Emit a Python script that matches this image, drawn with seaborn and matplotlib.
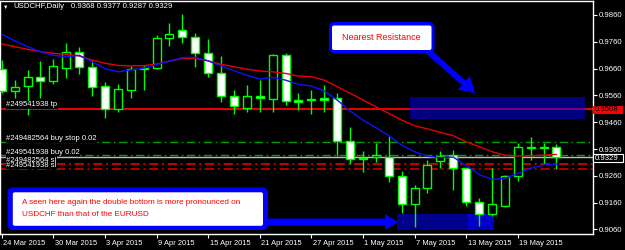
import numpy as np
import pandas as pd
import matplotlib
matplotlib.use("Agg")
import matplotlib.pyplot as plt
import seaborn as sns
from matplotlib.patches import Rectangle, FancyBboxPatch, FancyArrow
from matplotlib.transforms import Affine2D, ScaledTranslation

# ---------------- data ----------------
opens = [0.9658, 0.9578, 0.9595, 0.9628, 0.9614, 0.9663, 0.9723, 0.9666, 0.9595, 0.9508,
         0.9582, 0.9657, 0.9662, 0.9773, 0.9804, 0.9777, 0.9719, 0.9645, 0.9558, 0.9512,
         0.9558, 0.9545, 0.9711, 0.9543, 0.9541, 0.9551, 0.9551, 0.9391, 0.9322, 0.9331,
         0.9331, 0.9260, 0.9155, 0.9213, 0.9314, 0.9338, 0.9288, 0.9161, 0.9116, 0.9147,
         0.9259, 0.9362, 0.9363, 0.9368]
highs = [0.9692, 0.9617, 0.9655, 0.9690, 0.9694, 0.9754, 0.9739, 0.9692, 0.9609, 0.9603,
         0.9671, 0.9673, 0.9786, 0.9832, 0.9862, 0.9792, 0.9769, 0.9708, 0.9580, 0.9599,
         0.9617, 0.9713, 0.9719, 0.9570, 0.9580, 0.9599, 0.9568, 0.9443, 0.9352, 0.9381,
         0.9410, 0.9279, 0.9225, 0.9319, 0.9354, 0.9356, 0.9290, 0.9176, 0.9288, 0.9263,
         0.9381, 0.9403, 0.9384, 0.9377]
lows = [0.9570, 0.9549, 0.9487, 0.9550, 0.9601, 0.9624, 0.9639, 0.9559, 0.9474, 0.9497,
        0.9551, 0.9582, 0.9660, 0.9744, 0.9754, 0.9667, 0.9630, 0.9534, 0.9489, 0.9497,
        0.9499, 0.9497, 0.9524, 0.9505, 0.9489, 0.9499, 0.9335, 0.9303, 0.9273, 0.9313,
        0.9238, 0.9120, 0.9070, 0.9197, 0.9288, 0.9207, 0.9147, 0.9072, 0.9110, 0.9145,
        0.9240, 0.9319, 0.9306, 0.9287]
closes = [0.9577, 0.9593, 0.9628, 0.9615, 0.9670, 0.9723, 0.9665, 0.9593, 0.9508, 0.9584,
          0.9658, 0.9664, 0.9773, 0.9788, 0.9777, 0.9719, 0.9642, 0.9558, 0.9522, 0.9558,
          0.9549, 0.9711, 0.9540, 0.9534, 0.9546, 0.9544, 0.9391, 0.9321, 0.9326, 0.9336,
          0.9261, 0.9155, 0.9213, 0.9300, 0.9335, 0.9288, 0.9163, 0.9116, 0.9153, 0.9259,
          0.9366, 0.9366, 0.9366, 0.9329]
ma_fast = [0.9788, 0.9764, 0.9742, 0.9723, 0.9710, 0.9704, 0.9710, 0.9686, 0.9660, 0.9648,
           0.9655, 0.9662, 0.9675, 0.9688, 0.9701, 0.9702, 0.9689, 0.9670, 0.9652, 0.9635,
           0.9621, 0.9627, 0.9617, 0.9601, 0.9595, 0.9576, 0.9543, 0.9502, 0.9468, 0.9440,
           0.9410, 0.9375, 0.9350, 0.9333, 0.9328, 0.9330, 0.9298, 0.9265, 0.9247, 0.9250,
           0.9269, 0.9288, 0.9300, 0.9303]
ma_slow = [0.9752, 0.9742, 0.9732, 0.9723, 0.9717, 0.9713, 0.9707, 0.9692, 0.9680, 0.9672,
           0.9670, 0.9671, 0.9677, 0.9688, 0.9698, 0.9698, 0.9689, 0.9676, 0.9667, 0.9658,
           0.9651, 0.9648, 0.9642, 0.9632, 0.9630, 0.9617, 0.9593, 0.9568, 0.9543, 0.9518,
           0.9493, 0.9468, 0.9447, 0.9435, 0.9422, 0.9410, 0.9387, 0.9369, 0.9350, 0.9337,
           0.9334, 0.9335, 0.9337, 0.9340]
date_tick_labels = ["24 Mar 2015", "30 Mar 2015", "3 Apr 2015", "9 Apr 2015", "15 Apr 2015",
                    "21 Apr 2015", "27 Apr 2015", "1 May 2015", "7 May 2015", "13 May 2015",
                    "19 May 2015"]
date_tick_bars = [0, 4, 8, 12, 16, 20, 24, 28, 32, 36, 40]
price_ticks = [0.9060, 0.9160, 0.9260, 0.9360, 0.9460, 0.9560, 0.9660, 0.9760, 0.9860]

tp_level = 0.9508
buy_stop_level = 0.9385
buy_level = 0.9337
bid_level = 0.9329
sl_levels = [0.9304, 0.9284]
resistance_zone = (0.9472, 0.9555)
support_zone = (0.9058, 0.9117)

df = pd.DataFrame({"bar": np.arange(len(opens)), "open": opens, "high": highs,
                   "low": lows, "close": closes, "ma_fast": ma_fast, "ma_slow": ma_slow})

# ---------------- style ----------------
sns.set_theme(style="dark", rc={"axes.facecolor": "black", "figure.facecolor": "black"})
plt.rcParams["font.family"] = ["Liberation Sans", "DejaVu Sans"]

W, H = 625, 250
fig = plt.figure(figsize=(W / 100, H / 100), dpi=100, facecolor="black")
ax = fig.add_axes([0, 1 - 233.7 / H, 592.7 / W, (233.7 - 0.5) / H])
ax.set_facecolor("black")
T = Affine2D().scale(1 / W, -1 / H).translate(0, 1) + fig.transFigure

LIME = "#00ff00"
bull = df["close"] >= df["open"]

# wicks
ax.vlines(df["bar"], df["low"], df["high"], color=LIME, lw=1, zorder=2)
# bodies
body_h = (df["close"] - df["open"]).abs().clip(lower=0.00005)
body_b = df[["open", "close"]].min(axis=1)
ax.bar(df["bar"][bull], body_h[bull], bottom=body_b[bull], width=0.62,
       color="black", edgecolor=LIME, lw=1, zorder=3)
ax.bar(df["bar"][~bull], body_h[~bull], bottom=body_b[~bull], width=0.62,
       color="white", edgecolor=LIME, lw=1, zorder=3)

# moving averages
sns.lineplot(data=df, x="bar", y="ma_slow", color="#e60000", lw=1, ax=ax, zorder=4)
sns.lineplot(data=df, x="bar", y="ma_fast", color="#1010ff", lw=1, ax=ax, zorder=4)

# order lines
dashdot = (0, (6, 2.5, 1.2, 2.5))
ax.axhline(tp_level, color="red", lw=1.3, zorder=1.5)
ax.axhline(buy_stop_level, color="#00a000", lw=1, ls=dashdot, zorder=1.5)
ax.axhline(buy_level, color="#00a000", lw=1, ls=dashdot, zorder=1.5)
ax.axhline(bid_level, color="#c0c0c0", lw=1, zorder=1.6)
ax.axhline(sl_levels[0], color="#ff0000", lw=1.1, ls=dashdot, zorder=1.5)
ax.axhline(sl_levels[1], color="#e00000", lw=1.1, ls=dashdot, zorder=1.5)

# zones
ax.add_patch(Rectangle((31.65, resistance_zone[0]), 45.2 - 31.65,
                       resistance_zone[1] - resistance_zone[0],
                       facecolor="#0000ff", alpha=0.5, lw=0, zorder=5))
ax.add_patch(Rectangle((30.62, support_zone[0]), 38.16 - 30.62,
                       support_zone[1] - support_zone[0],
                       facecolor="#00008c", lw=0, zorder=1))
ax.add_patch(Rectangle((36.15, support_zone[0]), 38.16 - 36.15,
                       support_zone[1] - support_zone[0],
                       facecolor="#0000c8", lw=0, zorder=1.1))

ax.set_xlim(-0.132, 45.81)
ax.set_ylim(0.90440, 0.99141)
ax.set_xlabel("")
ax.set_ylabel("")
ax.grid(False)
for s in ax.spines.values():
    s.set_color("white")
    s.set_linewidth(1)

ax.yaxis.tick_right()
ax.set_yticks(price_ticks)
ax.set_yticklabels([f"{p:.4f}" for p in price_ticks])
ax.tick_params(axis="y", colors="white", labelsize=5.6, length=3, width=0.8, pad=1,
               direction="out", right=True, left=False)
ax.set_xticks(date_tick_bars)
ax.set_xticklabels(date_tick_labels)
ax.tick_params(axis="x", colors="white", labelsize=5.4, length=3, width=0.8, pad=1.5,
               direction="out", bottom=True)
off = ScaledTranslation(1.5 / 100, 0, fig.dpi_scale_trans)
for lab in ax.get_xticklabels():
    lab.set_ha("left")
    lab.set_transform(lab.get_transform() + off)

# right-axis labels
fig.patches.append(Rectangle((592.7, 105.5), 30.5, 8, transform=T, facecolor="red",
                             edgecolor="none", zorder=10))
fig.text(594.5, 109.5, f"{tp_level:.4f}", transform=T, color="black", fontsize=5.6,
         va="center", ha="left", zorder=11)
fig.patches.append(Rectangle((592.7, 154), 30.5, 8.3, transform=T, facecolor="black",
                             edgecolor="white", lw=0.8, zorder=10))
fig.text(594.5, 158.2, f"{bid_level:.4f}", transform=T, color="white", fontsize=5.6,
         va="center", ha="left", zorder=11)

# title
fig.text(3, 7, "\u25bc", transform=T, color="white", fontsize=4, va="center", ha="left")
fig.text(13, 7, "USDCHF,Daily", transform=T, color="white", fontsize=5.6, va="center", ha="left")
fig.text(71, 7, "0.9368 0.9377 0.9287 0.9329", transform=T, color="white", fontsize=5.6,
         va="center", ha="left")

# order labels
lab_kw = dict(transform=T, color="white", fontsize=5.5, va="center", ha="left", zorder=12,
              bbox=dict(facecolor="black", edgecolor="none", pad=0.3))
fig.text(6, 105, "#249541938 tp", **lab_kw)
fig.text(6, 139, "#249482564 buy stop 0.02", **lab_kw)
fig.text(6, 152, "#249541938 buy 0.02", **lab_kw)
fig.text(6, 160, "#249482564 sl", **lab_kw)
fig.text(6, 165.5, "#249541938 sl", **lab_kw)

# callout: Nearest Resistance
fig.patches.append(FancyBboxPatch((329, 22), 105.5, 31, boxstyle="round,pad=0,rounding_size=6",
                                  transform=T, facecolor="#0000ff", edgecolor="none", zorder=20))
fig.patches.append(FancyBboxPatch((332, 25.5), 99.5, 24.5, boxstyle="round,pad=0,rounding_size=2",
                                  transform=T, facecolor="white", edgecolor="none", zorder=21))
fig.text(381.5, 37.5, "Nearest Resistance", transform=T, color="red", fontsize=6.5,
         va="center", ha="center", zorder=22)
fig.patches.append(FancyArrow(428, 51, 47, 42, width=6, head_width=18, head_length=15,
                              length_includes_head=True, transform=T, facecolor="#0000ff",
                              edgecolor="none", zorder=19))

# callout: double bottom
fig.patches.append(FancyArrow(262, 222, 136, 0, width=7, head_width=16, head_length=13,
                              length_includes_head=True, transform=T, facecolor="#0000ff",
                              edgecolor="none", zorder=19))
fig.patches.append(FancyBboxPatch((7.5, 187.5), 260.5, 42.5, boxstyle="round,pad=0,rounding_size=6",
                                  transform=T, facecolor="#0000ff", edgecolor="none", zorder=20))
fig.patches.append(FancyBboxPatch((12.8, 192.3), 250.2, 33.5, boxstyle="round,pad=0,rounding_size=2",
                                  transform=T, facecolor="white", edgecolor="none", zorder=21))
fig.text(22, 203, "A seen here again the double bottom is more pronounced on", transform=T,
         color="red", fontsize=5.9, va="center", ha="left", zorder=22)
fig.text(22, 215, "USDCHF than that of the EURUSD", transform=T,
         color="red", fontsize=5.9, va="center", ha="left", zorder=22)

fig.savefig("out.png", dpi=100, facecolor="black")
